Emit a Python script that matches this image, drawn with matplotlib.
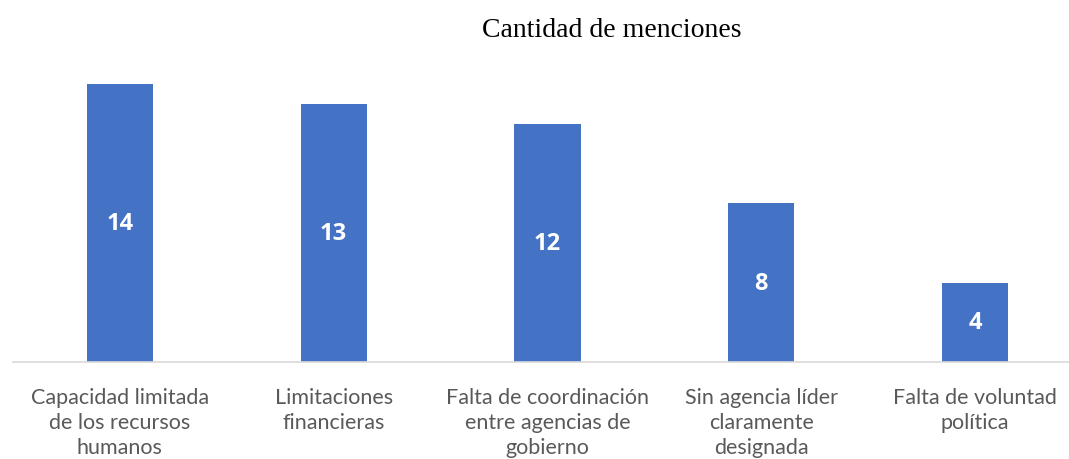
import matplotlib.pyplot as plt

# Datos
categorias = [
    "Capacidad limitada\nde los recursos\nhumanos",
    "Limitaciones\nfinancieras",
    "Falta de coordinación\nentre agencias de\ngobierno",
    "Sin agencia líder\nclaramente\ndesignada",
    "Falta de voluntad\npolítica",
]
menciones = [14, 13, 12, 8, 4]

fig = plt.figure(figsize=(10.69, 4.60), dpi=100)
ax = fig.add_axes([13 / 1069, 97 / 460, 1 - 13 / 1069, 278 / 460])

x = range(len(categorias))
barras = ax.bar(x, menciones, width=0.31, color='#4472C4', zorder=2)

# Etiquetas de valor dentro de las barras
for b, v in zip(barras, menciones):
    ax.text(b.get_x() + b.get_width() / 2, v / 2, str(v), ha='center', va='center',
            color='white', fontsize=17, fontweight='bold', family='Open Sans')

ax.set_xlim(-0.5, 4.44)
ax.set_ylim(0, 14)

# Solo la línea base
for s in ['top', 'right', 'left']:
    ax.spines[s].set_visible(False)
ax.spines['bottom'].set_color('#D9D9D9')
ax.spines['bottom'].set_linewidth(1.2)
ax.set_yticks([])
ax.set_xticks(list(x))
ax.set_xticklabels(categorias, family='Lato', fontsize=15.5, color='#595959', linespacing=1.3)
ax.tick_params(axis='x', length=0, pad=18)

fig.text(612 / 1069, 1 - 31 / 460, "Cantidad de menciones", ha='center', va='center',
         family='Liberation Serif', fontsize=20, color='black')

fig.savefig('out.png', dpi=100)
